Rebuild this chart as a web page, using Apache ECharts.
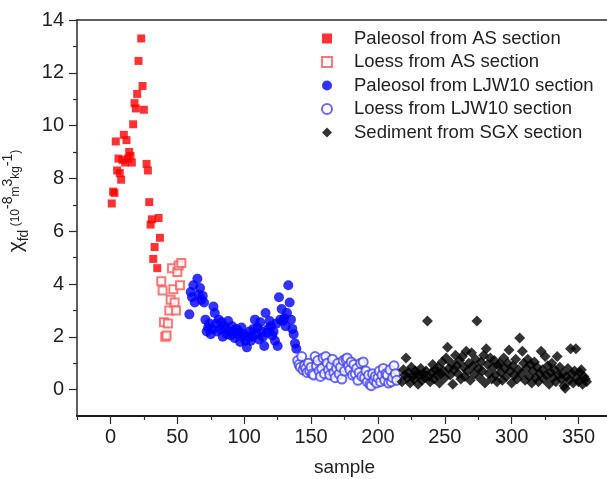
<!DOCTYPE html>
<html>
<head>
<meta charset="utf-8">
<script src="https://cdn.jsdelivr.net/npm/echarts@6/dist/echarts.min.js"></script>
<style>
  html, body { margin: 0; padding: 0; background: #fff; }
  #chart { width: 607px; height: 479px; }
</style>
</head>
<body>
<div id="chart"></div>
<script>
// [sample, chi_fd]
const paleosolAS = [
  [1, 7.05], [2, 7.5], [3, 7.45], [4, 9.4], [5, 8.3], [6, 8.75], [7, 8.2], [8, 7.95],
  [9, 8.7], [10, 9.65], [11, 8.6], [12, 9.45], [13, 8.75], [14, 9.0], [15, 8.85], [16, 8.6],
  [17, 10.05], [18, 10.85], [19, 10.65], [20, 11.2], [21, 12.45], [23, 13.3], [24, 11.5],
  [25, 10.6], [27, 8.55], [28, 8.3], [29, 7.1], [30, 6.25], [31, 6.45], [32, 4.95],
  [33, 5.4], [35, 4.6], [36, 6.5], [37, 5.75]
];
const loessAS = [
  [38, 4.1], [39, 3.75], [40, 2.55], [41, 2.0], [42, 2.05], [43, 2.5], [44, 3.0], [45, 3.4],
  [46, 4.6], [47, 3.8], [48, 3.3], [49, 3.0], [50, 4.45], [51, 4.7], [52, 3.95], [53, 4.8]
];
const paleosolLJW = [
  [59, 2.85], [60, 3.7], [61, 3.5], [62, 3.95], [63, 3.3], [65, 4.2], [66, 3.6], [67, 3.85],
  [68, 3.4], [69, 3.55], [70, 3.3], [71, 2.65], [72, 2.2], [73, 2.35], [74, 2.5], [75, 2.1],
  [76, 2.3], [77, 3.15], [78, 2.9], [79, 2.5], [80, 2.2], [81, 2.65], [82, 2.3], [83, 2.55],
  [84, 2.0], [85, 2.4], [86, 2.3], [87, 2.1], [88, 2.6], [89, 2.2], [90, 2.05], [91, 2.4],
  [92, 2.2], [93, 1.95], [94, 2.3], [95, 2.1], [96, 2.2], [97, 1.8], [98, 2.35], [99, 2.0],
  [100, 2.1], [101, 1.85], [102, 1.6], [103, 2.0], [104, 2.2], [105, 1.85], [106, 2.0],
  [107, 2.3], [108, 2.65], [109, 2.1], [110, 2.35], [111, 1.9], [112, 2.55], [113, 2.2],
  [114, 2.0], [115, 1.65], [116, 2.9], [117, 2.15], [118, 2.3], [119, 2.6], [120, 2.4],
  [121, 2.05], [122, 2.2], [123, 1.85], [124, 2.5], [125, 1.65], [126, 3.5], [127, 2.65],
  [128, 3.05], [129, 2.6], [130, 2.7], [131, 2.4], [132, 2.9], [133, 3.95], [134, 3.3],
  [135, 2.65], [136, 2.3], [137, 2.1], [138, 1.75], [139, 1.55]
];
const loessLJW = [
  [140, 1.1], [141, 0.95], [142, 0.85], [143, 1.25], [144, 0.75], [145, 0.9], [146, 0.8],
  [147, 0.65], [148, 1.0], [149, 0.7], [150, 0.85], [151, 0.6], [152, 0.55], [153, 1.25],
  [154, 0.9], [155, 1.1], [156, 0.7], [157, 0.5], [158, 0.8], [159, 1.2], [160, 0.6],
  [161, 1.25], [162, 1.0], [163, 0.75], [164, 0.55], [165, 0.9], [166, 1.15], [167, 0.65],
  [168, 0.45], [169, 0.8], [170, 1.0], [171, 0.6], [172, 0.85], [173, 0.4], [174, 1.1],
  [175, 0.7], [176, 1.15], [177, 1.2], [178, 0.9], [179, 0.75], [180, 1.05], [181, 0.55],
  [182, 0.95], [183, 0.6], [184, 0.8], [185, 0.35], [186, 0.65], [187, 1.0], [188, 0.5],
  [189, 1.05], [190, 0.45], [191, 0.7], [192, 0.3], [193, 0.55], [194, 0.2], [195, 0.15],
  [196, 0.6], [197, 0.35], [198, 0.5], [199, 0.25], [200, 0.45], [201, 0.7], [202, 0.3],
  [203, 0.55], [204, 0.8], [205, 0.35], [206, 0.6], [207, 0.55], [208, 0.25], [209, 0.75],
  [210, 0.3], [211, 0.45], [212, 0.9], [213, 0.6], [214, 0.35]
];
const sedimentSGX = [
  [218, 0.3], [219, 0.75], [220, 0.55], [221, 1.2], [222, 0.45], [223, 0.65], [224, 0.25],
  [225, 0.85], [226, 0.5], [227, 0.4], [228, 0.7], [229, 0.6], [230, 0.2], [231, 0.55],
  [232, 0.8], [233, 0.35], [234, 0.6], [235, 0.45], [236, 0.7], [237, 2.6], [238, 0.5],
  [239, 0.3], [240, 0.65], [241, 0.95], [242, 0.4], [243, 0.75], [244, 0.55], [245, 0.85],
  [246, 0.25], [247, 0.6], [248, 1.05], [249, 0.7], [250, 0.45], [251, 1.2], [252, 1.6],
  [253, 0.8], [254, 0.55], [255, 1.0], [256, 0.2], [257, 0.75], [258, 1.3], [259, 0.9],
  [260, 0.6], [261, 1.1], [262, 0.4], [263, 1.25], [264, 0.85], [265, 0.5], [266, 1.45],
  [267, 0.7], [268, 1.0], [269, 0.35], [270, 1.4], [271, 0.9], [272, 0.6], [273, 1.15],
  [274, 2.6], [275, 0.8], [276, 0.45], [277, 1.05], [278, 0.7], [279, 1.3], [280, 0.25],
  [281, 1.55], [282, 0.95], [283, 0.6], [284, 1.2], [285, 0.4], [286, 0.85], [287, 1.1],
  [288, 0.55], [289, 0.3], [290, 0.9], [291, 1.0], [292, 0.65], [293, 0.35], [294, 1.2],
  [295, 0.8], [296, 0.5], [297, 1.0], [298, 1.5], [299, 0.7], [300, 0.25], [301, 0.9],
  [302, 0.55], [303, 1.15], [304, 0.4], [305, 0.75], [306, 1.95], [307, 0.6], [308, 1.45],
  [309, 1.0], [310, 0.35], [311, 0.8], [312, 1.15], [313, 0.5], [314, 0.95], [315, 0.25],
  [316, 0.7], [317, 1.05], [318, 0.45], [319, 0.85], [320, 0.3], [321, 0.6], [322, 1.45],
  [323, 0.75], [324, 0.4], [325, 1.25], [326, 0.55], [327, 0.9], [328, 0.2], [329, 0.65],
  [330, 1.0], [331, 0.45], [332, 0.75], [333, 0.3], [334, 1.25], [335, 0.55], [336, 0.85],
  [337, 0.4], [338, 0.6], [339, 0.15], [340, 0.05], [341, 0.5], [342, 0.8], [343, 0.35],
  [344, 1.55], [345, 0.6], [346, 0.25], [347, 0.7], [348, 1.55], [349, 0.45], [350, 0.3],
  [351, 0.65], [352, 0.75], [353, 0.2], [354, 0.5], [355, 0.4], [356, 0.3]
];

const xMajorTicks = [0, 50, 100, 150, 200, 250, 300, 350];
const xMinorTicks = [-25, 25, 75, 125, 175, 225, 275, 325, 375];
const yMajorTicks = [0, 2, 4, 6, 8, 10, 12, 14];
const yMinorTicks = [1, 3, 5, 7, 9, 11, 13];

const seriesNames = [
  "Paleosol from AS section",
  "Loess from AS section",
  "Paleosol from LJW10 section",
  "Loess from LJW10 section",
  "Sediment from SGX section"
];

const FONT = "'Liberation Sans', Arial, sans-serif";
const AXIS_COLOR = "#2a2a2a";

const el = document.getElementById("chart");
const chart = echarts.init(el);

// frame-only axis (top / right side of the box)
function frameAxis(position) {
  return {
    type: "value",
    position: position,
    splitLine: { show: false },
    axisLine: { show: true, onZero: false, lineStyle: { color: AXIS_COLOR, width: 1.5 } },
    axisTick: { show: false },
    axisLabel: { show: false }
  };
}

chart.setOption({
  animation: false,
  grid: {
    left: 77,
    top: 20,
    right: -5,
    bottom: 63,
    outerBoundsMode: "none",
    containLabel: false,
    show: false
  },
  legend: {
    orient: "vertical",
    left: 316,
    top: 24,
    itemWidth: 10,
    itemHeight: 10,
    itemGap: 4.5,
    textStyle: {
      fontFamily: FONT,
      fontSize: 18.5,
      color: "#222",
      padding: [0, 0, 0, 17]
    },
    data: seriesNames
  },
  xAxis: [
    {
      type: "value",
      min: -25,
      max: 375,
      position: "bottom",
      name: "sample",
      nameLocation: "middle",
      nameGap: 42,
      nameTextStyle: { fontFamily: FONT, fontSize: 19, color: "#222" },
      splitLine: { show: false },
      axisLine: { show: true, onZero: false, lineStyle: { color: "#1a1a1a", width: 2 } },
      axisTick: { length: 8, customValues: xMajorTicks, lineStyle: { color: AXIS_COLOR, width: 1.2 } },
      axisLabel: { customValues: xMajorTicks, margin: 11, fontFamily: FONT, fontSize: 20, color: "#222" }
    },
    {
      type: "value",
      min: -25,
      max: 375,
      position: "bottom",
      splitLine: { show: false },
      axisLine: { show: false, onZero: false },
      axisLabel: { show: false },
      axisTick: { length: 4, customValues: xMinorTicks, lineStyle: { color: AXIS_COLOR, width: 1.2 } }
    },
    Object.assign(frameAxis("top"), { min: -25, max: 375 })
  ],
  yAxis: [
    {
      type: "value",
      min: -1,
      max: 14,
      position: "left",
      name: "{i|χ}{s|fd} (10{p|-8}m{p|3}kg{p|-1})",
      nameLocation: "middle",
      nameGap: 37,
      nameTextStyle: {
        fontFamily: FONT,
        color: "#222",
        padding: [0, 0, 0, 34],
        rich: {
          i: { fontFamily: FONT, fontSize: 21, lineHeight: 30, verticalAlign: "middle", color: "#222" },
          s: { fontFamily: FONT, fontSize: 14, lineHeight: 30, verticalAlign: "bottom", color: "#222" },
          p: { fontFamily: FONT, fontSize: 14, lineHeight: 30, verticalAlign: "top", color: "#222" }
        }
      },
      splitLine: { show: false },
      axisLine: { show: true, onZero: false, lineStyle: { color: AXIS_COLOR, width: 1.5 } },
      axisTick: { length: 8, customValues: yMajorTicks, lineStyle: { color: AXIS_COLOR, width: 1.2 } },
      axisLabel: { customValues: yMajorTicks, margin: 13, fontFamily: FONT, fontSize: 20, color: "#222" }
    },
    {
      type: "value",
      min: -1,
      max: 14,
      position: "left",
      splitLine: { show: false },
      axisLine: { show: false, onZero: false },
      axisLabel: { show: false },
      axisTick: { length: 4, customValues: yMinorTicks, lineStyle: { color: AXIS_COLOR, width: 1.2 } }
    }
  ],
  series: [
    {
      name: seriesNames[0],
      type: "scatter",
      symbol: "rect",
      symbolSize: 8,
      itemStyle: { color: "#ff0000" },
      data: paleosolAS
    },
    {
      name: seriesNames[1],
      type: "scatter",
      symbol: "emptyRect",
      symbolSize: 8,
      itemStyle: { color: "#ff5555", borderColor: "#ff5555", borderWidth: 1 },
      data: loessAS
    },
    {
      name: seriesNames[2],
      type: "scatter",
      symbol: "circle",
      symbolSize: 10,
      itemStyle: { color: "#0000ff" },
      data: paleosolLJW
    },
    {
      name: seriesNames[3],
      type: "scatter",
      symbol: "emptyCircle",
      symbolSize: 9,
      itemStyle: { color: "#4444ff", borderColor: "#4444ff", borderWidth: 1 },
      data: loessLJW
    },
    {
      name: seriesNames[4],
      type: "scatter",
      symbol: "diamond",
      symbolSize: 11,
      itemStyle: { color: "#000000" },
      data: sedimentSGX
    }
  ]
});
</script>
</body>
</html>
